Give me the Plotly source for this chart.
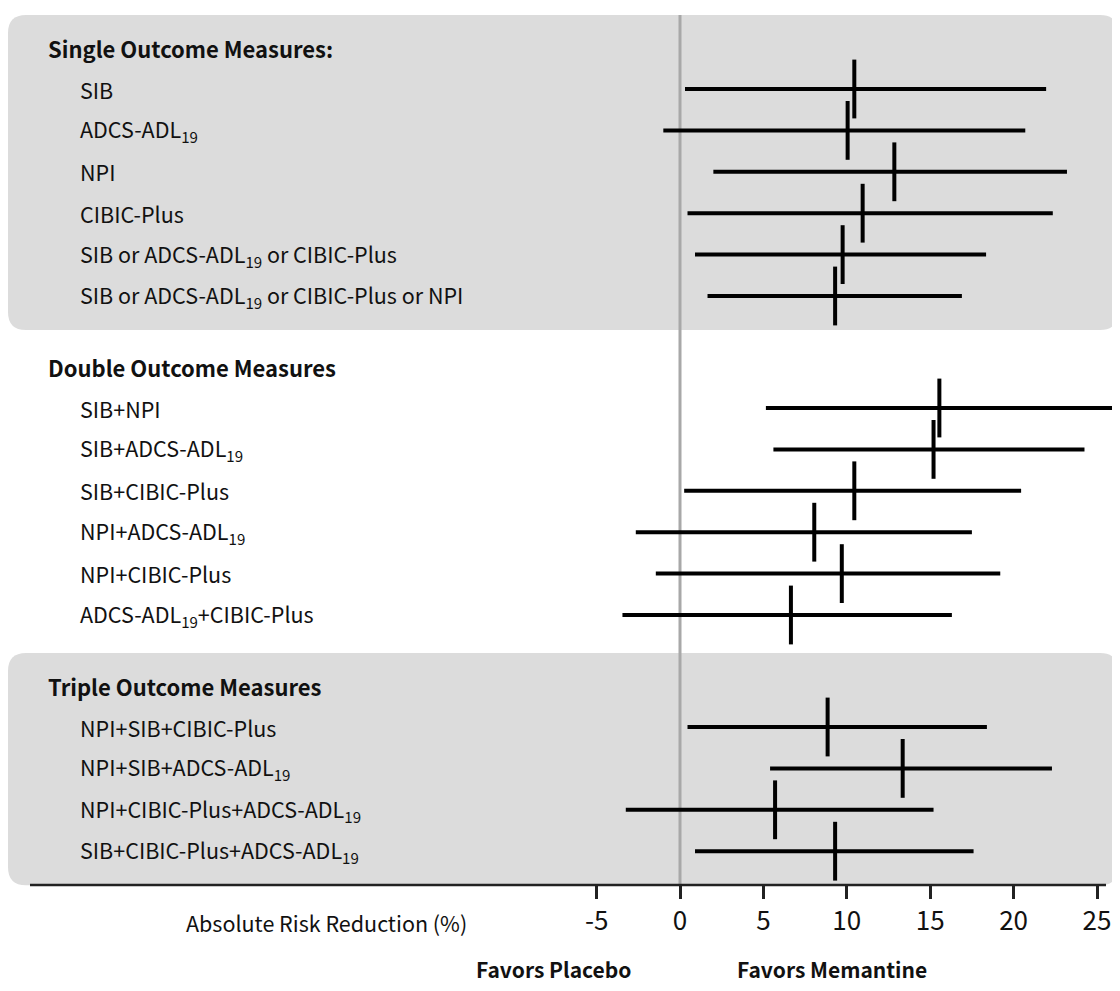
import plotly.graph_objects as go

# ---------------- data ----------------
group_titles = ["Single Outcome Measures:", "Double Outcome Measures", "Triple Outcome Measures"]

single_labels = ["SIB", "ADCS-ADL<sub>19</sub>", "NPI", "CIBIC-Plus",
                 "SIB or ADCS-ADL<sub>19</sub> or CIBIC-Plus",
                 "SIB or ADCS-ADL<sub>19</sub> or CIBIC-Plus or NPI"]
single_est = [10.45, 10.05, 12.85, 10.95, 9.75, 9.3]
single_lo = [0.3, -1.0, 2.0, 0.45, 0.9, 1.65]
single_hi = [21.95, 20.7, 23.2, 22.35, 18.35, 16.9]

double_labels = ["SIB+NPI", "SIB+ADCS-ADL<sub>19</sub>", "SIB+CIBIC-Plus",
                 "NPI+ADCS-ADL<sub>19</sub>", "NPI+CIBIC-Plus",
                 "ADCS-ADL<sub>19</sub>+CIBIC-Plus"]
double_est = [15.55, 15.2, 10.45, 8.05, 9.7, 6.65]
double_lo = [5.15, 5.6, 0.25, -2.65, -1.45, -3.45]
double_hi = [26.05, 24.25, 20.45, 17.5, 19.2, 16.3]

triple_labels = ["NPI+SIB+CIBIC-Plus", "NPI+SIB+ADCS-ADL<sub>19</sub>",
                 "NPI+CIBIC-Plus+ADCS-ADL<sub>19</sub>",
                 "SIB+CIBIC-Plus+ADCS-ADL<sub>19</sub>"]
triple_est = [8.85, 13.35, 5.7, 9.3]
triple_lo = [0.45, 5.4, -3.25, 0.9]
triple_hi = [18.4, 22.3, 15.2, 17.6]

tick_vals = [-5, 0, 5, 10, 15, 20, 25]
tick_text = ["-5", "0", "5", "10", "15", "20", "25"]
x_title = "Absolute Risk Reduction (%)"
left_note = "Favors Placebo"
right_note = "Favors Memantine"

groups = [
    (single_labels, single_est, single_lo, single_hi, True),
    (double_labels, double_est, double_lo, double_hi, False),
    (triple_labels, triple_est, triple_lo, triple_hi, True),
]

# ---------------- layout geometry (page px; the page body has an 8px margin) ----------------
OFF = 8
W, H = 1120 - OFF, 991 - OFF
PL, PR = 30, 1118          # plot area left/right in page px
PT, PB = 15, 885           # plot area top/bottom in page px
ZERO_PX = 680
PX_PER_UNIT = 16.68
x_range = [(PL - ZERO_PX) / PX_PER_UNIT, (PR - ZERO_PX) / PX_PER_UNIT]

def xp(px):
    return (px - PL) / (PR - PL)

def yp(py):
    return (PB - py) / (PB - PT)

FONT = "Liberation Sans Narrow, Noto Sans CJK SC, Roboto, sans-serif"
INK = "#111111"
PANEL = "#dcdcdc"

ROW = 41.4
HEAD_GAP = 41
GROUP_GAP = 71

def fnt(size, bold=False):
    d = dict(family=FONT, size=size, color=INK)
    if bold:
        d["weight"] = "bold"
    return d

fig = go.Figure()
shapes = []
annotations = []

y_head = 48
for gi, (labels, est, lo, hi, shaded) in enumerate(groups):
    ys = [y_head + HEAD_GAP + i * ROW for i in range(len(labels))]
    if shaded:
        top = y_head - 33
        bot = ys[-1] + 34
        r = 18
        x0, x1 = xp(8), xp(1118)
        rx = r / (PR - PL)
        ry = r / (PB - PT)
        y0, y1 = yp(bot), yp(top)
        path = (f"M {x0+rx},{y1} L {x1-rx},{y1} Q {x1},{y1} {x1},{y1-ry} "
                f"L {x1},{y0+ry} Q {x1},{y0} {x1-rx},{y0} "
                f"L {x0+rx},{y0} Q {x0},{y0} {x0},{y0+ry} "
                f"L {x0},{y1-ry} Q {x0},{y1} {x0+rx},{y1} Z")
        shapes.append(dict(type="path", path=path, xref="paper", yref="paper",
                           fillcolor=PANEL, line=dict(width=0), layer="below"))
    annotations.append(dict(text=group_titles[gi], x=xp(46), y=y_head, xref="paper", yref="y",
                            xanchor="left", yanchor="middle", showarrow=False,
                            font=fnt(22, True)))
    for lab, yy in zip(labels, ys):
        annotations.append(dict(text=lab, x=xp(78), y=yy, xref="paper", yref="y",
                                xanchor="left", yanchor="middle", showarrow=False,
                                font=fnt(21.5)))
    fig.add_trace(go.Scatter(
        x=est, y=ys, mode="markers",
        marker=dict(symbol="line-ns", size=42, line=dict(width=4, color="black"), color="black"),
        error_x=dict(type="data", symmetric=False,
                     array=[h - e for h, e in zip(hi, est)],
                     arrayminus=[e - l for e, l in zip(est, lo)],
                     width=0, thickness=4, color="black"),
        showlegend=False, hoverinfo="skip", cliponaxis=False))
    y_head = ys[-1] + GROUP_GAP

# zero reference line
shapes.append(dict(type="line", xref="x", yref="paper", x0=0, x1=0, y0=0, y1=1,
                   line=dict(color="#a8a8a8", width=3), layer="below"))
# axis line
shapes.append(dict(type="line", xref="paper", yref="paper", x0=0, x1=xp(1106), y0=0, y1=0,
                   line=dict(color="#222222", width=2.5), layer="above"))

annotations.append(dict(text=x_title, x=xp(469), y=yp(922), xref="paper", yref="paper",
                        xanchor="right", yanchor="middle", showarrow=False, font=fnt(21.5)))
annotations.append(dict(text=left_note, x=xp(633), y=yp(969), xref="paper", yref="paper",
                        xanchor="right", yanchor="middle", showarrow=False, font=fnt(21, True)))
annotations.append(dict(text=right_note, x=xp(735), y=yp(969), xref="paper", yref="paper",
                        xanchor="left", yanchor="middle", showarrow=False, font=fnt(21, True)))

fig.update_layout(
    width=W, height=H,
    margin=dict(l=PL - OFF, r=W - (PR - OFF), t=PT - OFF, b=H - (PB - OFF), pad=0),
    paper_bgcolor="white", plot_bgcolor="rgba(0,0,0,0)",
    shapes=shapes, annotations=annotations,
    xaxis=dict(range=x_range, showgrid=False, zeroline=False, showline=False,
               tickmode="array", tickvals=tick_vals, ticktext=tick_text,
               ticks="outside", ticklen=13, tickwidth=2.5, tickcolor="#222222",
               tickfont=fnt(26)),
    yaxis=dict(range=[PB, PT], visible=False, showgrid=False, zeroline=False),
)

fig.write_html("out.html")
